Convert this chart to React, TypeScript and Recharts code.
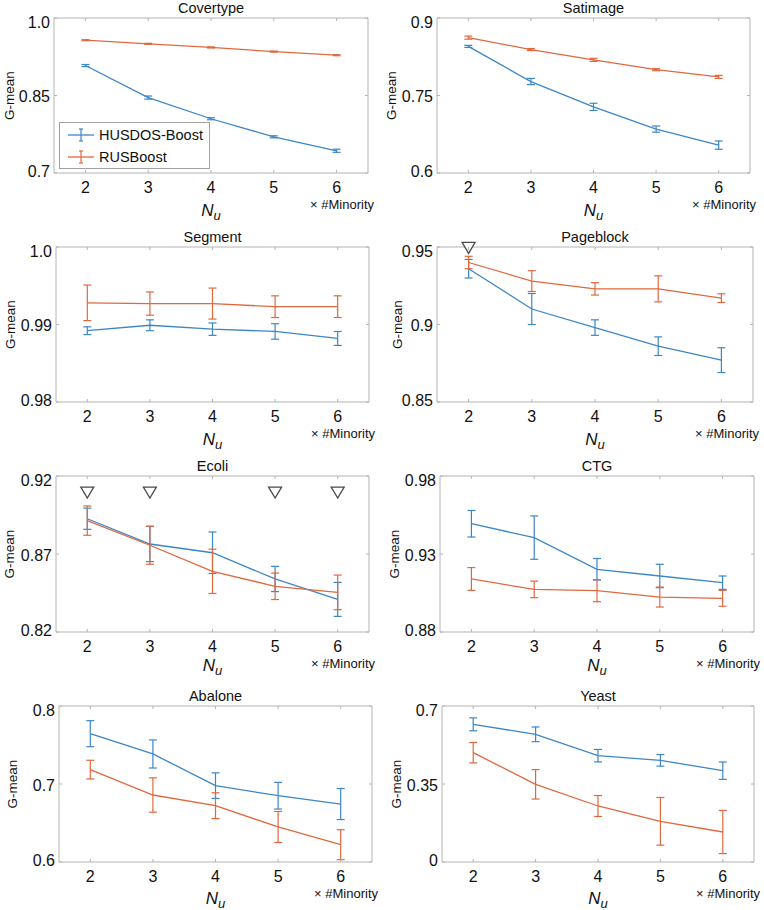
import React from 'react';
import { ComposedChart, Line, Scatter, XAxis, YAxis, ErrorBar, ReferenceArea, Legend } from 'recharts';

const BLUE = '#3d86c6';
const ORANGE = '#e0683f';
const FRAME = '#b4b4b4';
const FONT = '"Liberation Sans", Arial, Helvetica, sans-serif';

const NU = [2, 3, 4, 5, 6];
const SERIES = ['HUSDOS-Boost', 'RUSBoost'];

// Covertype
const covertypeHusdos = [0.908, 0.846, 0.805, 0.77, 0.743];
const covertypeHusdosErr = [0.002, 0.003, 0.002, 0.002, 0.003];
const covertypeRus = [0.957, 0.95, 0.943, 0.935, 0.928];
const covertypeRusErr = [0.001, 0.001, 0.001, 0.001, 0.001];
const covertypeTicks = [0.7, 0.85, 1.0];
const covertypeLabels = ['0.7', '0.85', '1.0'];

// Satimage
const satimageHusdos = [0.845, 0.777, 0.728, 0.685, 0.654];
const satimageHusdosErr = [0.002, 0.006, 0.007, 0.006, 0.008];
const satimageRus = [0.862, 0.839, 0.819, 0.8, 0.786];
const satimageRusErr = [0.003, 0.002, 0.003, 0.002, 0.003];
const satimageTicks = [0.6, 0.75, 0.9];
const satimageLabels = ['0.6', '0.75', '0.9'];

// Segment
const segmentHusdos = [0.9892, 0.9899, 0.9894, 0.9891, 0.9882];
const segmentHusdosErr = [0.0005, 0.0007, 0.0008, 0.001, 0.0009];
const segmentRus = [0.9928, 0.9927, 0.9927, 0.9923, 0.9923];
const segmentRusErr = [0.0023, 0.0015, 0.002, 0.0014, 0.0014];
const segmentTicks = [0.98, 0.99, 1.0];
const segmentLabels = ['0.98', '0.99', '1.0'];

// Pageblock
const pageblockHusdos = [0.936, 0.91, 0.898, 0.886, 0.877];
const pageblockHusdosErr = [0.006, 0.01, 0.005, 0.006, 0.008];
const pageblockRus = [0.94, 0.928, 0.923, 0.923, 0.917];
const pageblockRusErr = [0.004, 0.0067, 0.004, 0.0084, 0.0028];
const pageblockTicks = [0.85, 0.9, 0.95];
const pageblockLabels = ['0.85', '0.9', '0.95'];
const pageblockMarks = [2];
const pageblockMarkLevel = 0.9494;

// Ecoli
const ecoliHusdos = [0.8926, 0.8764, 0.8708, 0.854, 0.8409];
const ecoliHusdosErr = [0.0068, 0.0113, 0.0133, 0.0081, 0.0109];
const ecoliRus = [0.8914, 0.8756, 0.8589, 0.8493, 0.8454];
const ecoliRusErr = [0.0094, 0.0122, 0.0142, 0.0085, 0.0111];
const ecoliTicks = [0.82, 0.87, 0.92];
const ecoliLabels = ['0.82', '0.87', '0.92'];
const ecoliMarks = [2, 3, 5, 6];
const ecoliMarkLevel = 0.9094;

// CTG
const ctgHusdos = [0.9494, 0.9405, 0.9202, 0.9159, 0.9116];
const ctgHusdosErr = [0.0085, 0.0139, 0.0069, 0.0075, 0.0043];
const ctgRus = [0.914, 0.9073, 0.9065, 0.9024, 0.9016];
const ctgRusErr = [0.0073, 0.0053, 0.0071, 0.0064, 0.0051];
const ctgTicks = [0.88, 0.93, 0.98];
const ctgLabels = ['0.88', '0.93', '0.98'];

// Abalone
const abaloneHusdos = [0.7645, 0.7385, 0.6979, 0.685, 0.6743];
const abaloneHusdosErr = [0.0167, 0.018, 0.0164, 0.0171, 0.0199];
const abaloneRus = [0.7184, 0.6859, 0.6722, 0.6449, 0.6222];
const abaloneRusErr = [0.012, 0.022, 0.0165, 0.0199, 0.0192];
const abaloneTicks = [0.6, 0.7, 0.8];
const abaloneLabels = ['0.6', '0.7', '0.8'];

// Yeast
const yeastHusdos = [0.6177, 0.5729, 0.4771, 0.4562, 0.4098];
const yeastHusdosErr = [0.029, 0.033, 0.028, 0.026, 0.039];
const yeastRus = [0.4906, 0.3485, 0.2513, 0.1825, 0.1346];
const yeastRusErr = [0.046, 0.066, 0.047, 0.107, 0.097];
const yeastTicks = [0, 0.35, 0.7];
const yeastLabels = ['0', '0.35', '0.7'];

interface PanelSpec {
  title: string;
  husdos: number[];
  husdosErr: number[];
  rus: number[];
  rusErr: number[];
  ticks: number[];
  labels: string[];
  marks: number[];
  markLevel: number;
}

const panels: PanelSpec[] = [
  { title: 'Covertype', husdos: covertypeHusdos, husdosErr: covertypeHusdosErr, rus: covertypeRus, rusErr: covertypeRusErr, ticks: covertypeTicks, labels: covertypeLabels, marks: [], markLevel: 0 },
  { title: 'Satimage', husdos: satimageHusdos, husdosErr: satimageHusdosErr, rus: satimageRus, rusErr: satimageRusErr, ticks: satimageTicks, labels: satimageLabels, marks: [], markLevel: 0 },
  { title: 'Segment', husdos: segmentHusdos, husdosErr: segmentHusdosErr, rus: segmentRus, rusErr: segmentRusErr, ticks: segmentTicks, labels: segmentLabels, marks: [], markLevel: 0 },
  { title: 'Pageblock', husdos: pageblockHusdos, husdosErr: pageblockHusdosErr, rus: pageblockRus, rusErr: pageblockRusErr, ticks: pageblockTicks, labels: pageblockLabels, marks: pageblockMarks, markLevel: pageblockMarkLevel },
  { title: 'Ecoli', husdos: ecoliHusdos, husdosErr: ecoliHusdosErr, rus: ecoliRus, rusErr: ecoliRusErr, ticks: ecoliTicks, labels: ecoliLabels, marks: ecoliMarks, markLevel: ecoliMarkLevel },
  { title: 'CTG', husdos: ctgHusdos, husdosErr: ctgHusdosErr, rus: ctgRus, rusErr: ctgRusErr, ticks: ctgTicks, labels: ctgLabels, marks: [], markLevel: 0 },
  { title: 'Abalone', husdos: abaloneHusdos, husdosErr: abaloneHusdosErr, rus: abaloneRus, rusErr: abaloneRusErr, ticks: abaloneTicks, labels: abaloneLabels, marks: [], markLevel: 0 },
  { title: 'Yeast', husdos: yeastHusdos, husdosErr: yeastHusdosErr, rus: yeastRus, rusErr: yeastRusErr, ticks: yeastTicks, labels: yeastLabels, marks: [], markLevel: 0 },
];

// layout: plot boxes [left, top, right, bottom] in page pixels
const BOXES = [
  [54, 18, 368, 173],
  [437, 18, 750, 173],
  [56, 247, 369, 402],
  [437, 247, 753, 402],
  [56, 476, 369, 632],
  [440, 476, 754, 632],
  [59, 706, 372, 862],
  [442, 706, 754, 862],
];
const YLABEL_GAP = [45, 46, 46, 40, 47, 45.5, 46.5, 46];
const NU_LABEL_DROP = [43, 43, 39, 42];
const ROW_Y = [0, 225, 450, 680];
const CELL_W = 382;
const CELL_H = 230;
const X_AXIS_H = 40;

const Triangle = (props: any) => {
  const { cx, cy } = props;
  return (
    <path
      d={`M${cx - 6.5},${cy - 5.5} L${cx + 6.5},${cy - 5.5} L${cx},${cy + 5.5} Z`}
      fill="#fff"
      stroke="#4a4a4a"
      strokeWidth={1.3}
    />
  );
};

const LegendBox = ({ payload }: any) => (
  <div
    style={{
      width: 151,
      height: 47,
      boxSizing: 'border-box',
      border: '1px solid #a0a0a0',
      background: '#fff',
      paddingTop: 1,
      fontFamily: FONT,
      fontSize: 14.5,
      color: '#111',
      whiteSpace: 'nowrap',
    }}
  >
    {(payload || []).map((entry: any) => (
      <div key={entry.value} style={{ display: 'flex', alignItems: 'center', height: 22 }}>
        <svg width={32} height={20} style={{ marginLeft: 7, marginRight: 0, flexShrink: 0 }}>
          <line x1={1} x2={27} y1={10} y2={10} stroke={entry.color} strokeWidth={1.3} />
          <line x1={14} x2={14} y1={4} y2={16} stroke={entry.color} strokeWidth={1.2} />
          <line x1={12} x2={16} y1={4} y2={4} stroke={entry.color} strokeWidth={1.2} />
          <line x1={12} x2={16} y1={16} y2={16} stroke={entry.color} strokeWidth={1.2} />
        </svg>
        <span style={{ flexShrink: 0 }}>{entry.value}</span>
      </div>
    ))}
  </div>
);

const Panel = ({ spec, index }: { spec: PanelSpec; index: number }) => {
  const col = index % 2;
  const row = Math.floor(index / 2);
  const ox = col * CELL_W;
  const oy = ROW_Y[row];
  const [L, T, R, B] = BOXES[index];
  const left = L - ox;
  const top = T - oy;
  const right = R - ox;
  const bottom = B - oy;
  const plotH = bottom - top;
  const plotW = right - left;
  const cx = left + plotW / 2;
  const lo = spec.ticks[0];
  const hi = spec.ticks[spec.ticks.length - 1];

  const data = NU.map((nu, i) => ({
    nu,
    h: spec.husdos[i],
    hErr: spec.husdosErr[i],
    r: spec.rus[i],
    rErr: spec.rusErr[i],
  }));
  const markData = spec.marks.map((nu) => ({ nu, level: spec.markLevel }));

  const xTick = (props: any) => {
    const { x, payload } = props;
    return (
      <g>
        <line x1={x} x2={x} y1={bottom} y2={bottom - 3} stroke={FRAME} />
        <line x1={x} x2={x} y1={top} y2={top + 3} stroke={FRAME} />
        <text x={x} y={bottom + 20} textAnchor="middle" fontSize={16} fontFamily={FONT} fill="#111">
          {payload.value}
        </text>
      </g>
    );
  };

  const yShift = [-2, 1, 4];
  const yTick = (props: any) => {
    const { y, index: ti } = props;
    return (
      <g>
        <line x1={left} x2={left + 3} y1={y} y2={y} stroke={FRAME} />
        <line x1={right} x2={right - 3} y1={y} y2={y} stroke={FRAME} />
        <text x={left - 4} y={y + yShift[ti] + 5.7} textAnchor="end" fontSize={16} fontFamily={FONT} fill="#111">
          {spec.labels[ti]}
        </text>
      </g>
    );
  };

  const xLabel = () => (
    <g fontFamily={FONT} fill="#111">
      <text x={cx} y={top - 5.5} textAnchor="middle" fontSize={14.5}>
        {spec.title}
      </text>
      <text x={cx} y={bottom + NU_LABEL_DROP[row]} textAnchor="middle" fontStyle="italic">
        <tspan fontSize={17}>N</tspan>
        <tspan fontSize={13} dy={4}>u</tspan>
      </text>
      <text x={right + 6} y={bottom + 36} textAnchor="end" fontSize={13}>
        × #Minority
      </text>
    </g>
  );

  const yLabel = () => {
    const gx = left - YLABEL_GAP[index];
    const gy = top + plotH / 2;
    return (
      <text
        x={gx}
        y={gy}
        transform={`rotate(-90, ${gx}, ${gy})`}
        textAnchor="middle"
        dominantBaseline="central"
        fontSize={13.5}
        fontFamily={FONT}
        fill="#111"
      >
        G-mean
      </text>
    );
  };

  return (
    <div style={{ position: 'absolute', left: ox, top: oy, width: CELL_W, height: CELL_H }}>
      <ComposedChart
        width={CELL_W}
        height={CELL_H}
        data={data}
        margin={{ top, right: CELL_W - right, bottom: CELL_H - bottom - X_AXIS_H, left: 0 }}
      >
        <XAxis
          dataKey="nu"
          type="number"
          domain={[1.5, 6.5]}
          ticks={NU}
          axisLine={false}
          tickLine={false}
          tickSize={0}
          tickMargin={0}
          height={X_AXIS_H}
          tick={xTick}
          label={{ content: xLabel }}
        />
        <YAxis
          type="number"
          domain={[lo, hi]}
          ticks={spec.ticks}
          axisLine={false}
          tickLine={false}
          tickSize={0}
          tickMargin={0}
          width={left}
          tick={yTick}
          label={{ content: yLabel }}
        />
        <ReferenceArea x1={1.5} x2={6.5} y1={lo} y2={hi} fill="none" stroke={FRAME} strokeWidth={1} ifOverflow="visible" />
        <Line
          type="linear"
          dataKey="h"
          name={SERIES[0]}
          stroke={BLUE}
          strokeWidth={1.3}
          dot={false}
          activeDot={false}
          isAnimationActive={false}
        >
          <ErrorBar dataKey="hErr" direction="y" width={4} stroke={BLUE} strokeWidth={1.2} isAnimationActive={false} />
        </Line>
        <Line
          type="linear"
          dataKey="r"
          name={SERIES[1]}
          stroke={ORANGE}
          strokeWidth={1.3}
          dot={false}
          activeDot={false}
          isAnimationActive={false}
        >
          <ErrorBar dataKey="rErr" direction="y" width={4} stroke={ORANGE} strokeWidth={1.2} isAnimationActive={false} />
        </Line>
        {markData.length > 0 && (
          <Scatter data={markData} dataKey="level" shape={Triangle} legendType="none" isAnimationActive={false} />
        )}
        {index === 0 && (
          <Legend
            layout="vertical"
            align="center"
            verticalAlign="middle"
            content={LegendBox}
            wrapperStyle={{ position: 'absolute', left: 59, top: 122, width: 151, height: 47 }}
          />
        )}
      </ComposedChart>
    </div>
  );
}

export default function App() {
  return (
    <div
      style={{
        position: 'absolute',
        left: 0,
        top: 0,
        width: 764,
        height: 910,
        overflow: 'hidden',
        background: '#fff',
        fontFamily: FONT,
      }}
    >
      <style>{'.recharts-surface { overflow: visible; }'}</style>
      {panels.map((spec, i) => (
        <Panel key={spec.title} spec={spec} index={i} />
      ))}
    </div>
  );
}
